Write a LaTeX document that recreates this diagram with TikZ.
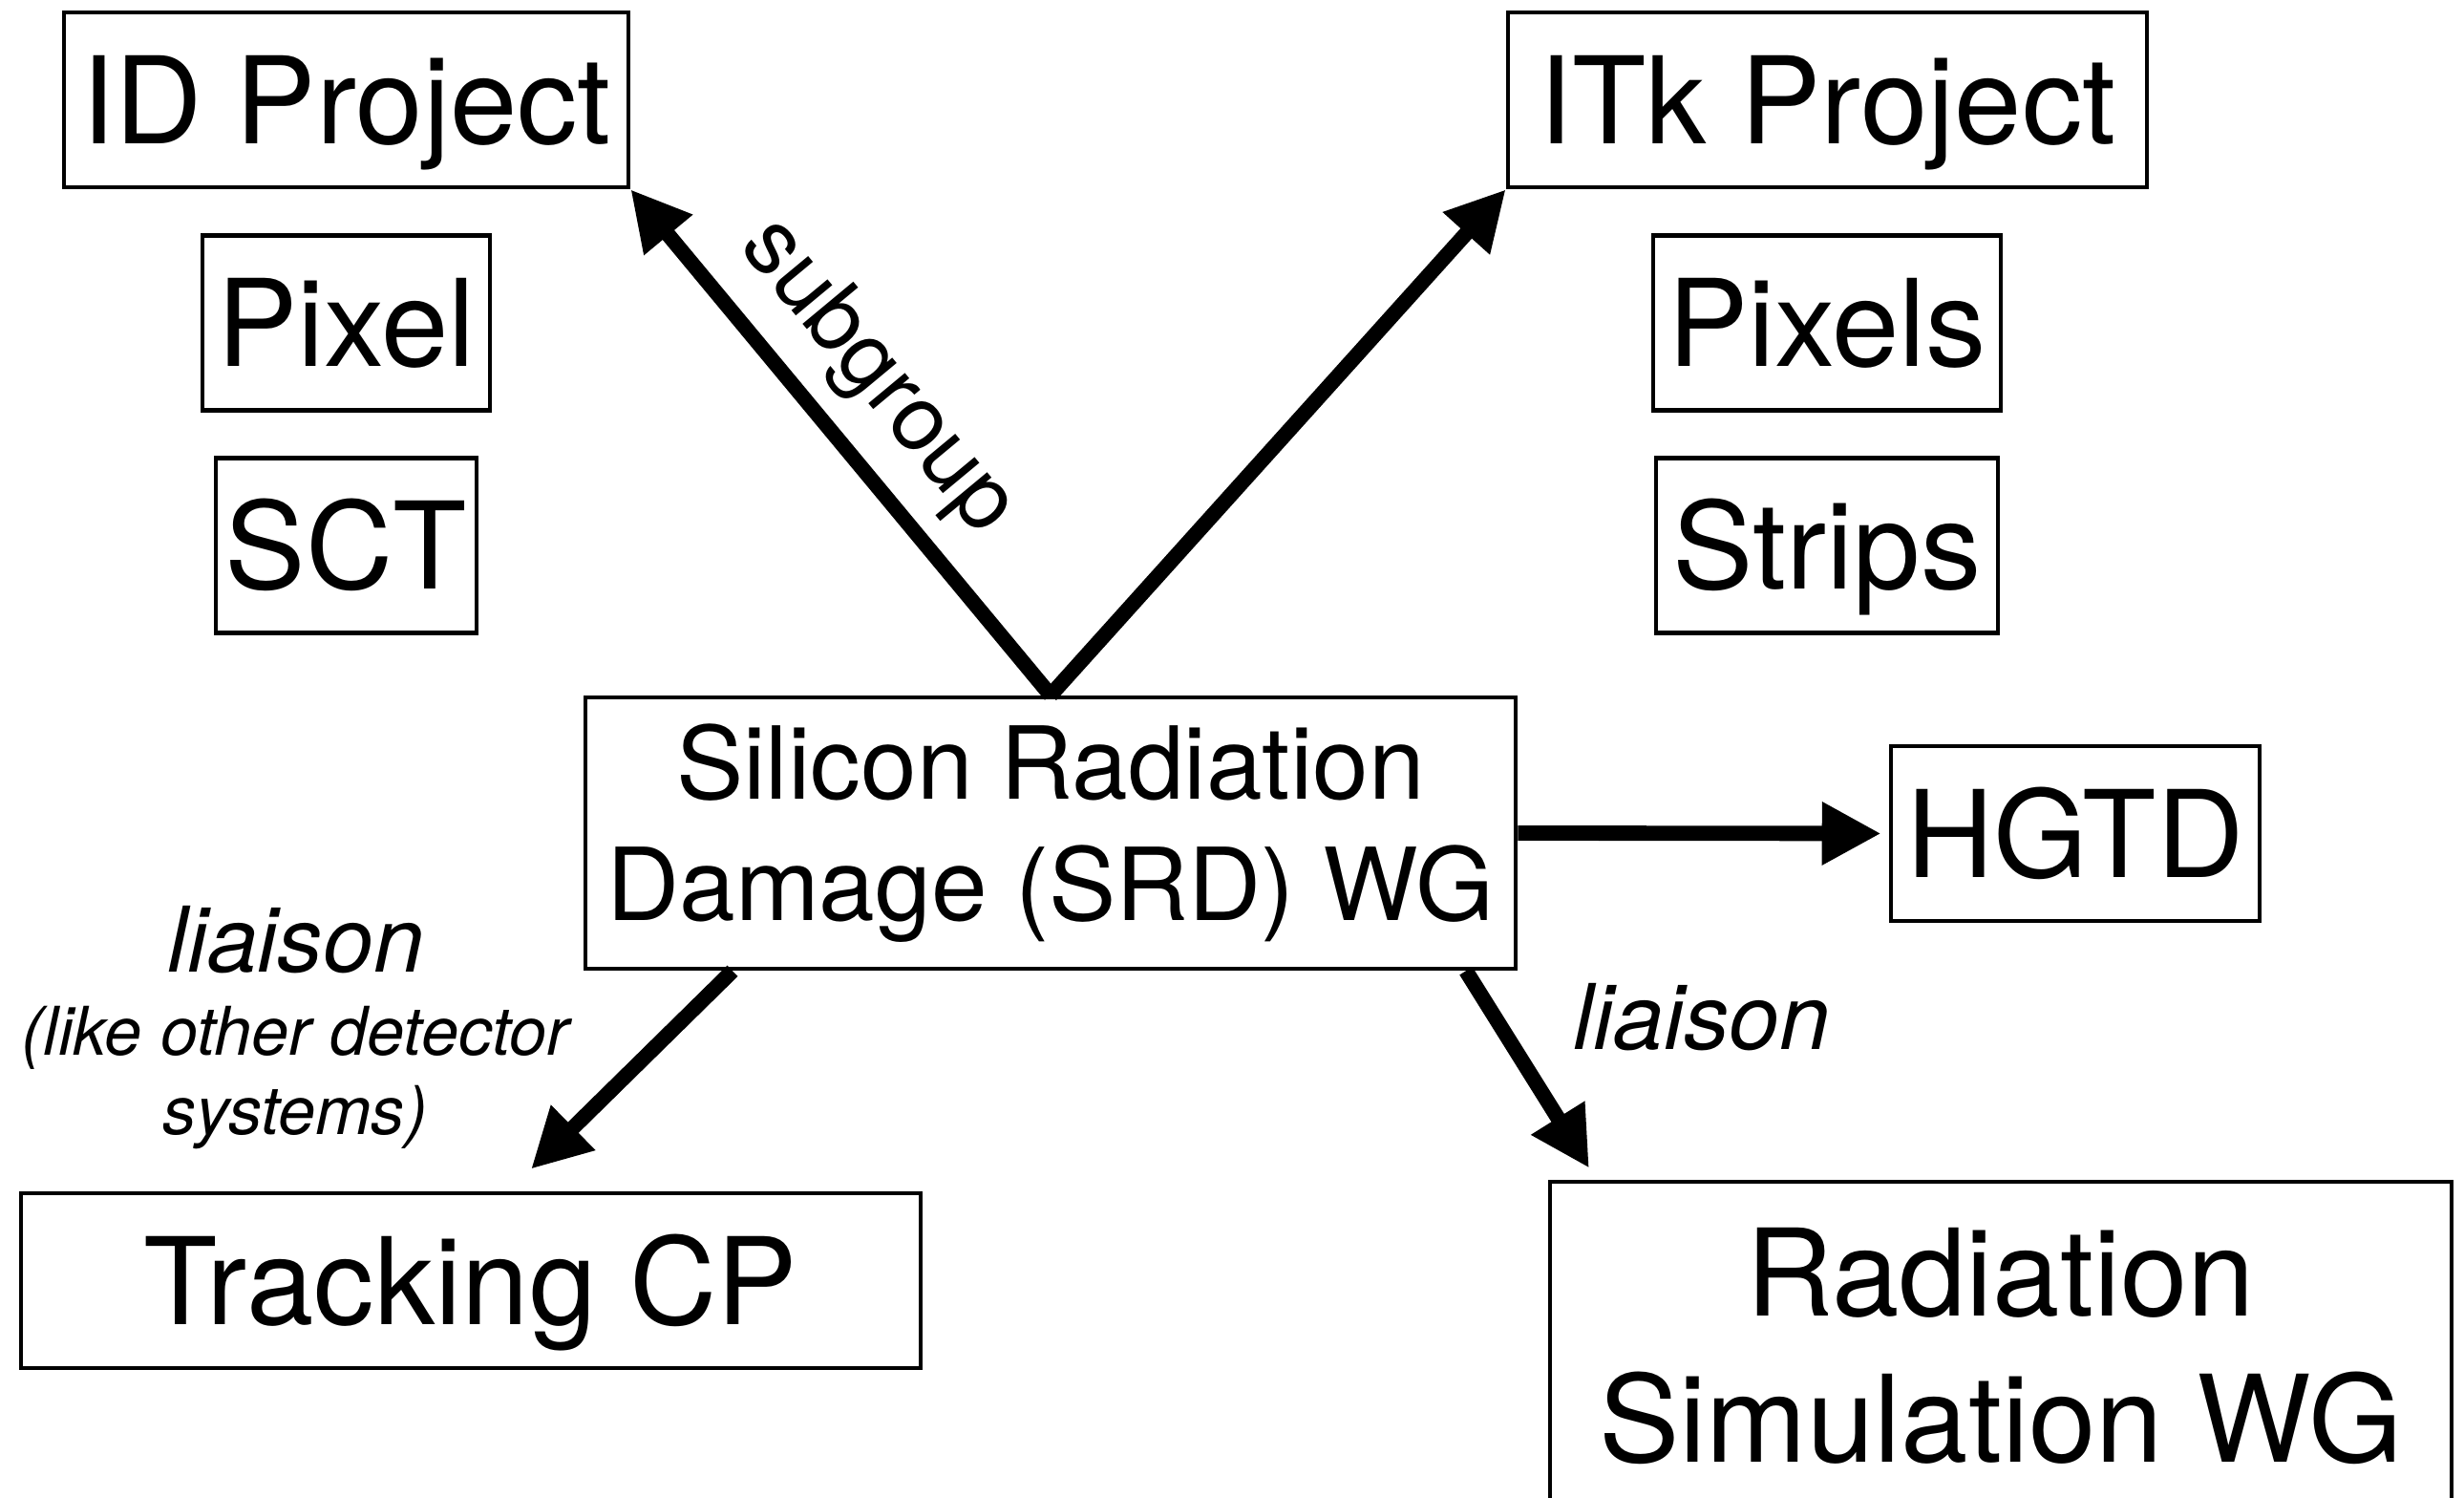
\documentclass[tikz,border=0pt]{standalone}
\usepackage{fontspec}
\setmainfont{TeX Gyre Heros}
\usetikzlibrary{arrows.meta,positioning}

\tikzset{
    unit/.style={draw, line width=1.3pt, inner sep=0pt, minimum height=1.83cm,
        text height=26pt, text depth=0pt, font=\fontsize{36}{43.5}\selectfont},
    wg/.style={draw, line width=1.3pt, inner sep=0pt, align=center},
    link/.style={-{Triangle[length=0.62cm, width=0.62cm]}, line width=4.5pt},
    tag/.style={font=\fontsize{27}{32}\selectfont\itshape, inner sep=0pt},
    note/.style={font=\fontsize{20}{23.5}\selectfont\itshape, inner sep=0pt, align=center}
}

\begin{document}
\begin{tikzpicture}
                \useasboundingbox (0,0) rectangle (25.8,15.68);

                % Current detector
                \node[unit, minimum width=5.91cm] (idp) at (3.625,14.635) {ID Project};
                \node[unit, minimum width=3.01cm] (pix) at (3.625,12.30) {Pixel};
                \node[unit, minimum width=2.73cm] (sct) at (3.625,9.97) {SCT};

                % Upgrade
                \node[unit, minimum width=6.69cm] (itk) at (19.135,14.635) {ITk Project};
                \node[unit, minimum width=3.64cm] (pxs) at (19.13,12.30) {Pixels};
                \node[unit, minimum width=3.58cm] (str) at (19.13,9.97) {Strips};

                % Working group and its partners
                \node[wg, minimum width=9.74cm, minimum height=2.84cm, font=\fontsize{30}{36}\selectfont] (srd) at (11.00,6.96) {Silicon Radiation\\Damage (SRD) WG};
                \node[unit, minimum width=3.86cm] (hgtd) at (21.73,6.955) {HGTD};
                \node[unit, minimum width=9.42cm] (trk) at (4.93,2.275) {Tracking CP};
                \node[wg, minimum width=9.44cm, minimum height=3.44cm, font=\fontsize{36}{43.5}\selectfont] (rsim) at (20.95,1.59) {Radiation\\Simulation WG};

                % Links
                \draw[link] (srd.north) -- (idp.south east)
                    node[sloped, above=0.2cm, pos=0.54, inner sep=0pt, font=\fontsize{27}{32}\selectfont] (sub) {subgroup};
                \draw[link] (srd.north) -- (itk.south west);
                \draw[link] (srd.east) -- ([xshift=-0.08cm]hgtd.west);
                \draw[link] ([xshift=-3.33cm]srd.south) -- ([xshift=0.63cm, yshift=0.23cm]trk.north);
                \draw[link] ([xshift=4.35cm]srd.south) -- ([xshift=-4.31cm, yshift=0.12cm]rsim.north);

                % Liaison labels
                \node[tag, anchor=base] (liaL) at (3.095,5.50) {liaison};
                \node[note] (liaN) at (3.09,4.40) {(like other detector\\systems)};
                \node[tag, anchor=base] (liaR) at (17.82,4.69) {liaison};
\end{tikzpicture}
\end{document}
